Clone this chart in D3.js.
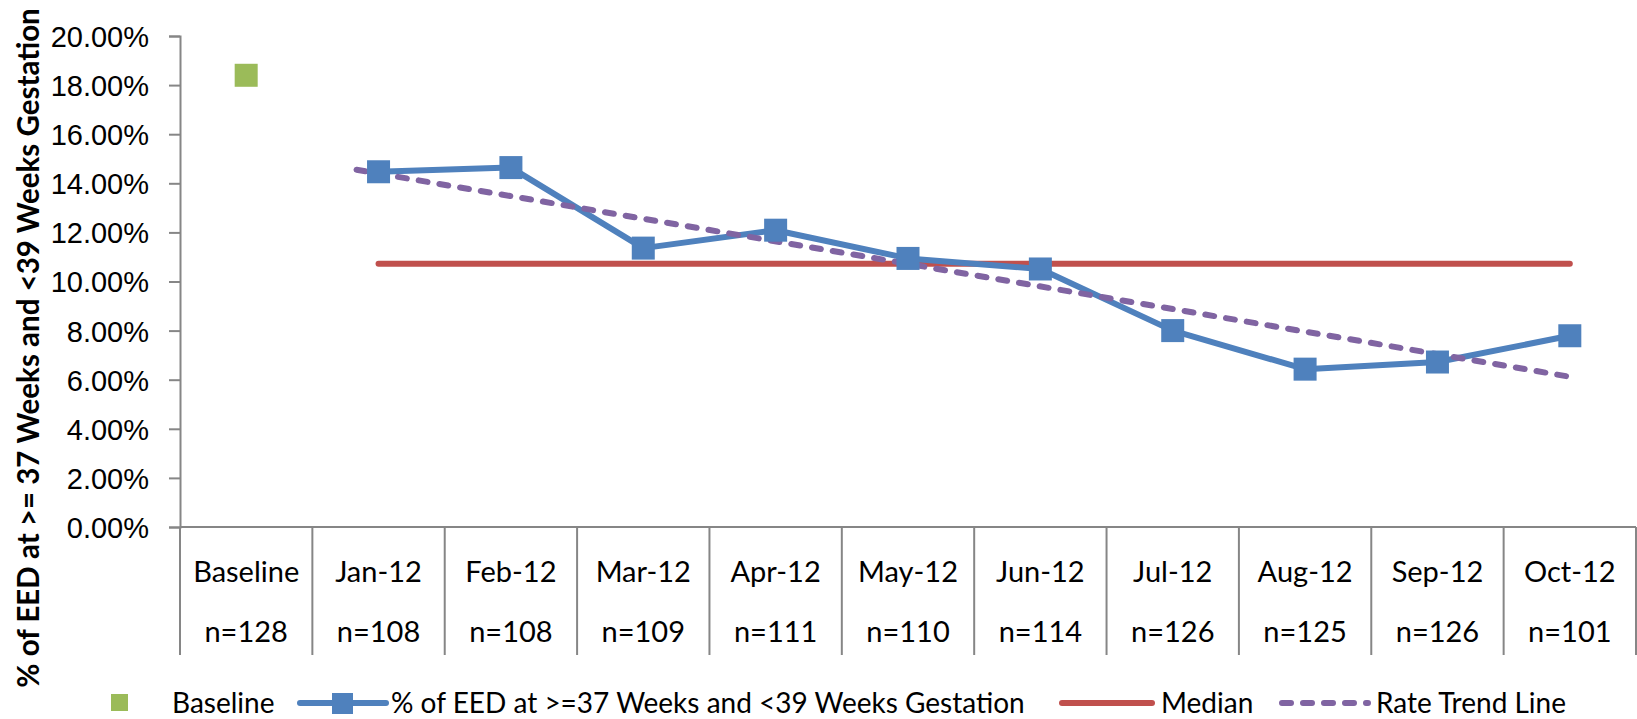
<!DOCTYPE html>
<html>
<head>
<meta charset="utf-8">
<script src="https://cdn.jsdelivr.net/npm/d3@7"></script>
<style>
  body { margin: 0; background: #fff; }
  svg { display: block; font-family: Lato, "Open Sans", sans-serif; }
</style>
</head>
<body>
<svg id="chart" width="1637" height="719"></svg>
<script>
// categories and sample sizes
var categories = ["Baseline", "Jan-12", "Feb-12", "Mar-12", "Apr-12", "May-12",
                  "Jun-12", "Jul-12", "Aug-12", "Sep-12", "Oct-12"];
var sampleSizes = ["n=128", "n=108", "n=108", "n=109", "n=111", "n=110",
                   "n=114", "n=126", "n=125", "n=126", "n=101"];

// series values (fractions)
var baselineValue = [0.1840];
var months = categories.slice(1);
var eedValues = [0.1447, 0.1464, 0.1136, 0.1209, 0.1094, 0.1051,
                 0.0800, 0.0643, 0.0672, 0.0779];
var medianValues = [0.1072, 0.1072];           // Jan-12 .. Oct-12
var trendValues = [0.1455, 0.0612];            // Jan-12 .. Oct-12
var yTicks = [0, 0.02, 0.04, 0.06, 0.08, 0.10, 0.12, 0.14, 0.16, 0.18, 0.20];

var legendItems = ["Baseline", "% of EED at >=37 Weeks and <39 Weeks Gestation",
                   "Median", "Rate Trend Line"];

var BLUE = "#4F81BD", RED = "#C0504D", GREEN = "#9BBB59", PURPLE = "#8064A2", AXIS = "#868686";

var svg = d3.select("#chart");

var x = d3.scaleBand().domain(categories).range([180, 1636]).padding(0);
var y = d3.scaleLinear().domain([0, 0.2]).range([527, 36]);
var cx = function (c) { return x(c) + x.bandwidth() / 2; };

// y axis
var yAxis = d3.axisLeft(y).tickValues(yTicks).tickSize(11).tickPadding(20)
    .tickFormat(d3.format(".2%"));
var gy = svg.append("g").attr("transform", "translate(180,0)").call(yAxis);
gy.select(".domain").attr("stroke", AXIS).attr("stroke-width", 2);
gy.selectAll(".tick line").attr("stroke", AXIS).attr("stroke-width", 2);
gy.selectAll(".tick text").attr("fill", "#000").style("font-size", "29px")
    .attr("dy", "0.36em");

// category axis: table-like cells
var bounds = categories.map(function (c) { return x(c); }).concat([x.range()[1]]);
svg.append("line")
    .attr("x1", 180).attr("x2", 1636).attr("y1", y(0)).attr("y2", y(0))
    .attr("stroke", AXIS).attr("stroke-width", 2);
svg.selectAll("line.cell").data(bounds).enter().append("line")
    .attr("class", "cell")
    .attr("x1", function (d) { return d; }).attr("x2", function (d) { return d; })
    .attr("y1", y(0)).attr("y2", 655)
    .attr("stroke", AXIS).attr("stroke-width", 2);

svg.selectAll("text.cat").data(categories).enter().append("text")
    .attr("class", "cat")
    .attr("x", cx).attr("y", 572).attr("dy", "0.36em")
    .attr("text-anchor", "middle").style("font-size", "29px")
    .text(function (d) { return d; });
svg.selectAll("text.n").data(sampleSizes).enter().append("text")
    .attr("class", "n")
    .attr("x", function (d, i) { return cx(categories[i]); }).attr("y", 632).attr("dy", "0.36em")
    .attr("text-anchor", "middle").style("font-size", "29px")
    .text(function (d) { return d; });

// y title
svg.append("text")
    .attr("transform", "translate(28," + 348 + ") rotate(-90)")
    .attr("text-anchor", "middle").attr("dy", "0.36em")
    .style("font-size", "29.5px").style("font-weight", "bold")
    .text("% of EED at >= 37 Weeks and <39 Weeks Gestation");

// median line
svg.append("line")
    .attr("x1", cx(months[0])).attr("x2", cx(months[months.length - 1]))
    .attr("y1", y(medianValues[0])).attr("y2", y(medianValues[1]))
    .attr("stroke", RED).attr("stroke-width", 6).attr("stroke-linecap", "round");

// EED series line
var line = d3.line().x(function (d, i) { return cx(months[i]); }).y(function (d) { return y(d); });
svg.append("path").datum(eedValues)
    .attr("d", line).attr("fill", "none")
    .attr("stroke", BLUE).attr("stroke-width", 6).attr("stroke-linejoin", "round");

// trend line
svg.append("line")
    .attr("x1", cx(months[0]) - 22).attr("x2", cx(months[months.length - 1]))
    .attr("y1", y(trendValues[0])).attr("y2", y(trendValues[1]))
    .attr("stroke", PURPLE).attr("stroke-width", 6)
    .attr("stroke-dasharray", "9,12").attr("stroke-linecap", "round");

// markers
var M = 23;
svg.selectAll("rect.eed").data(eedValues).enter().append("rect")
    .attr("class", "eed")
    .attr("x", function (d, i) { return cx(months[i]) - M / 2; })
    .attr("y", function (d) { return y(d) - M / 2; })
    .attr("width", M).attr("height", M).attr("fill", BLUE);

svg.selectAll("rect.base").data(baselineValue).enter().append("rect")
    .attr("class", "base")
    .attr("x", cx(categories[0]) - 11.5).attr("y", function (d) { return y(d) - 11.5; })
    .attr("width", 23).attr("height", 23).attr("fill", GREEN);

// legend
var ly = 703;
var lg = svg.append("g").style("font-size", "28px");
lg.append("rect").attr("x", 111).attr("y", ly - 9).attr("width", 17).attr("height", 17).attr("fill", GREEN);
lg.append("text").attr("x", 172).attr("y", ly).attr("dy", "0.36em").text(legendItems[0]);
lg.append("line").attr("x1", 300).attr("x2", 386).attr("y1", ly).attr("y2", ly)
    .attr("stroke", BLUE).attr("stroke-width", 6).attr("stroke-linecap", "round");
lg.append("rect").attr("x", 332).attr("y", ly - 10).attr("width", 21).attr("height", 21).attr("fill", BLUE);
lg.append("text").attr("x", 391).attr("y", ly).attr("dy", "0.36em").text(legendItems[1]);
lg.append("line").attr("x1", 1062).attr("x2", 1152).attr("y1", ly).attr("y2", ly)
    .attr("stroke", RED).attr("stroke-width", 6).attr("stroke-linecap", "round");
lg.append("text").attr("x", 1161).attr("y", ly).attr("dy", "0.36em").text(legendItems[2]);
lg.append("line").attr("x1", 1282).attr("x2", 1368).attr("y1", ly).attr("y2", ly)
    .attr("stroke", PURPLE).attr("stroke-width", 6)
    .attr("stroke-dasharray", "9,12").attr("stroke-linecap", "round");
lg.append("text").attr("x", 1376).attr("y", ly).attr("dy", "0.36em").text(legendItems[3]);
</script>
</body>
</html>
